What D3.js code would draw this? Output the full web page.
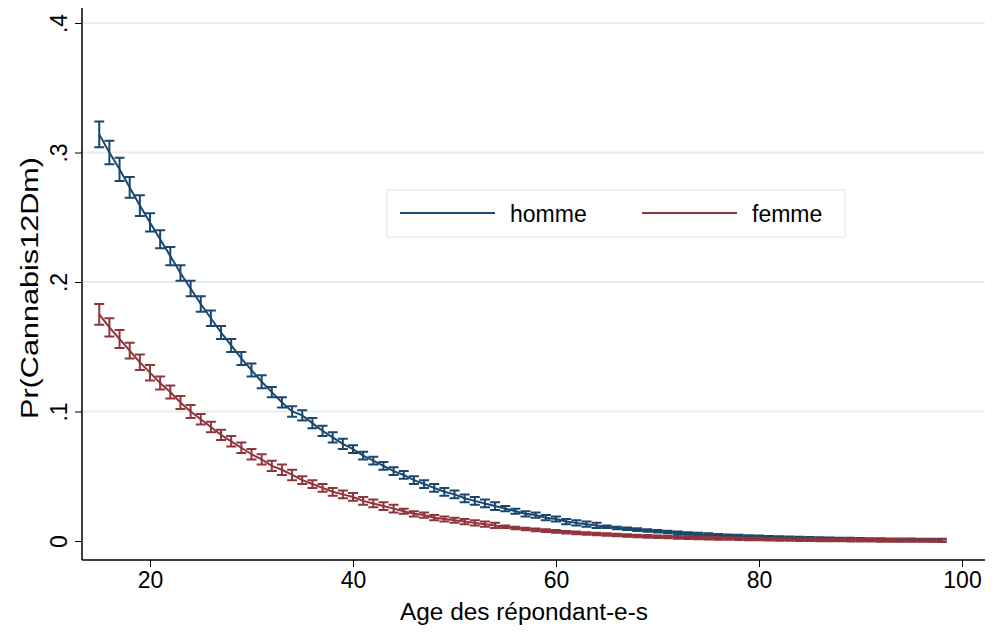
<!DOCTYPE html>
<html><head><meta charset="utf-8">
<script src="https://cdn.jsdelivr.net/npm/d3@7"></script>
<style>body{margin:0;background:#fff}text{font-family:"Liberation Sans",Arial,sans-serif}</style>
</head><body><svg id="chart" width="997" height="633"></svg>
<script>
const ages = d3.range(15, 99);
const homme = [.314,.300,.287,.273,.259,.246,.233,.220,.207,.195,.183,.172,.161,.151,.141,.132,.123,.115,.107,.100,
  .097,.091,.085,.080,.075,.071,.066,.062,.058,.054,.051,.047,.044,.041,.038,.036,.033,.031,.029,.027,
  .025,.023,.021,.020,.018,.017,.015,.014,.013,.012,.011,.010,.0095,.0088,.0081,.0075,.0069,.0063,.0058,.0053,
  .0049,.0045,.0041,.0038,.0035,.0032,.0029,.0027,.0025,.0023,.0021,.0019,.0017,.0016,.0015,.0013,.0012,.0011,.0010,.0009,
  .0009,.0008,.0007,.0007];
const femme = [.175,.165,.156,.147,.138,.130,.122,.115,.107,.100,.094,.088,.082,.077,.072,.067,.063,.058,.055,.051,
  .047,.044,.041,.038,.036,.034,.031,.029,.027,.025,.023,.021,.020,.018,.017,.016,.015,.014,.013,.012,
  .011,.010,.0093,.0086,.0080,.0074,.0068,.0063,.0058,.0054,.0050,.0046,.0042,.0039,.0036,.0033,.0031,.0028,.0026,.0024,
  .0022,.0020,.0019,.0017,.0016,.0015,.0013,.0012,.0011,.0010,.0010,.0009,.0008,.0008,.0007,.0006,.0006,.0005,.0005,.0005,
  .0004,.0004,.0004,.0003];
// half-width of the confidence interval
const hommeCI = [.010,.009,.009,.008,.008,.007,.007,.007,.006,.006,.006,.006,.005,.005,.005,.005,.005,.004,.004,.004,
  .004,.004,.004,.004,.004,.003,.003,.003,.003,.003,.003,.003,.003,.003,.003,.003,.003,.003,.003,.003,
  .002,.002,.002,.002,.002,.002,.002,.002,.002,.002,.001,.001,.001,.001,.001,.001,.001,.001,.001,.001,
  .001,.001,.001,.001,.001,.001,.001,.001,.001,.001,.001,.001,.001,.001,.001,.001,.001,.001,.001,.001,
  .001,.001,.001,.001];
const femmeCI = [.008,.007,.007,.006,.006,.006,.005,.005,.005,.005,.004,.004,.004,.004,.004,.004,.004,.004,.004,.004,
  .003,.003,.003,.003,.003,.003,.003,.003,.003,.003,.002,.002,.002,.002,.002,.002,.002,.002,.002,.002,
  .001,.001,.001,.001,.001,.001,.001,.001,.001,.001,.001,.001,.001,.001,.001,.001,.001,.001,.001,.001,
  .001,.001,.001,.001,.001,.001,.001,.001,.001,.001,.001,.001,.001,.001,.001,.001,.001,.001,.001,.001,
  .001,.001,.001,.001];
const xTicks = [20, 40, 60, 80, 100];
const yTicks = [0, .1, .2, .3, .4];
const seriesNames = ['homme', 'femme'];
const colors = ['#1a476f', '#90353b'];

const svg = d3.select('#chart');
const x = d3.scaleLinear().domain([20, 100]).range([150, 962]);
const y = d3.scaleLinear().domain([0, .4]).range([541, 23]);
const pLeft = 82, pBottom = 560, pTop = 8, pRight = 985;

// grid
svg.selectAll('.grid').data(yTicks.slice(1)).enter().append('line')
  .attr('x1', pLeft).attr('x2', pRight)
  .attr('y1', d => y(d)).attr('y2', d => y(d))
  .attr('stroke', '#e4eef0').attr('stroke-width', 2);

// axes
const fmt = d => d === 0 ? '0' : d3.format('.1f')(d).replace(/^0/, '');
const ya = svg.append('g').attr('transform', `translate(${pLeft},0)`)
  .call(d3.axisLeft(y).tickValues(yTicks).tickFormat(fmt).tickSize(7));
ya.select('.domain').attr('d', `M0,${pTop}V${pBottom}`).attr('stroke-width', 1.5);
ya.selectAll('.tick text').attr('font-size', 23).attr('fill', '#000')
  .attr('x', 0).attr('y', -15).attr('dy', 0).attr('text-anchor', 'middle')
  .attr('transform', 'rotate(-90)');
const xa = svg.append('g').attr('transform', `translate(0,${pBottom})`)
  .call(d3.axisBottom(x).tickValues(xTicks).tickSize(7).tickPadding(5));
xa.select('.domain').attr('d', `M${pLeft},0H${pRight}`).attr('stroke-width', 1.5);
xa.selectAll('text').attr('font-size', 23).attr('fill', '#000');

svg.append('text').attr('x', 524).attr('y', 620).attr('text-anchor', 'middle')
  .attr('font-size', 23).attr('textLength', 248).attr('lengthAdjust', 'spacingAndGlyphs')
  .text('Age des répondant-e-s');
svg.append('text').attr('transform', 'translate(38,288) rotate(-90)').attr('text-anchor', 'middle')
  .attr('font-size', 23).attr('textLength', 262).attr('lengthAdjust', 'spacingAndGlyphs')
  .text('Pr(Cannabis12Dm)');

// series
[[homme, hommeCI], [femme, femmeCI]].forEach(([vals, ci], i) => {
  const g = svg.append('g').attr('stroke', colors[i]).attr('stroke-width', 2).attr('fill', 'none');
  g.selectAll('.bar').data(ages).enter().append('path')
    .attr('d', (a, j) => {
      const cx = x(a), y1 = y(vals[j] - ci[j]), y2 = y(vals[j] + ci[j]);
      return `M${cx - 5},${y1}H${cx + 5}M${cx},${y1}V${y2}M${cx - 5},${y2}H${cx + 5}`;
    });
  g.append('path').datum(ages)
    .attr('d', d3.line().x(a => x(a)).y((a, j) => y(vals[j])));
});

// legend
svg.append('rect').attr('x', 387).attr('y', 190).attr('width', 458).attr('height', 47)
  .attr('fill', '#fff').attr('stroke', '#dde6e8');
seriesNames.forEach((n, i) => {
  const lx = 400 + i * 242;
  svg.append('line').attr('x1', lx).attr('x2', lx + 95).attr('y1', 213).attr('y2', 213)
    .attr('stroke', colors[i]).attr('stroke-width', 2);
  svg.append('text').attr('x', lx + 110).attr('y', 222).attr('font-size', 23).text(n);
});
</script></body></html>
